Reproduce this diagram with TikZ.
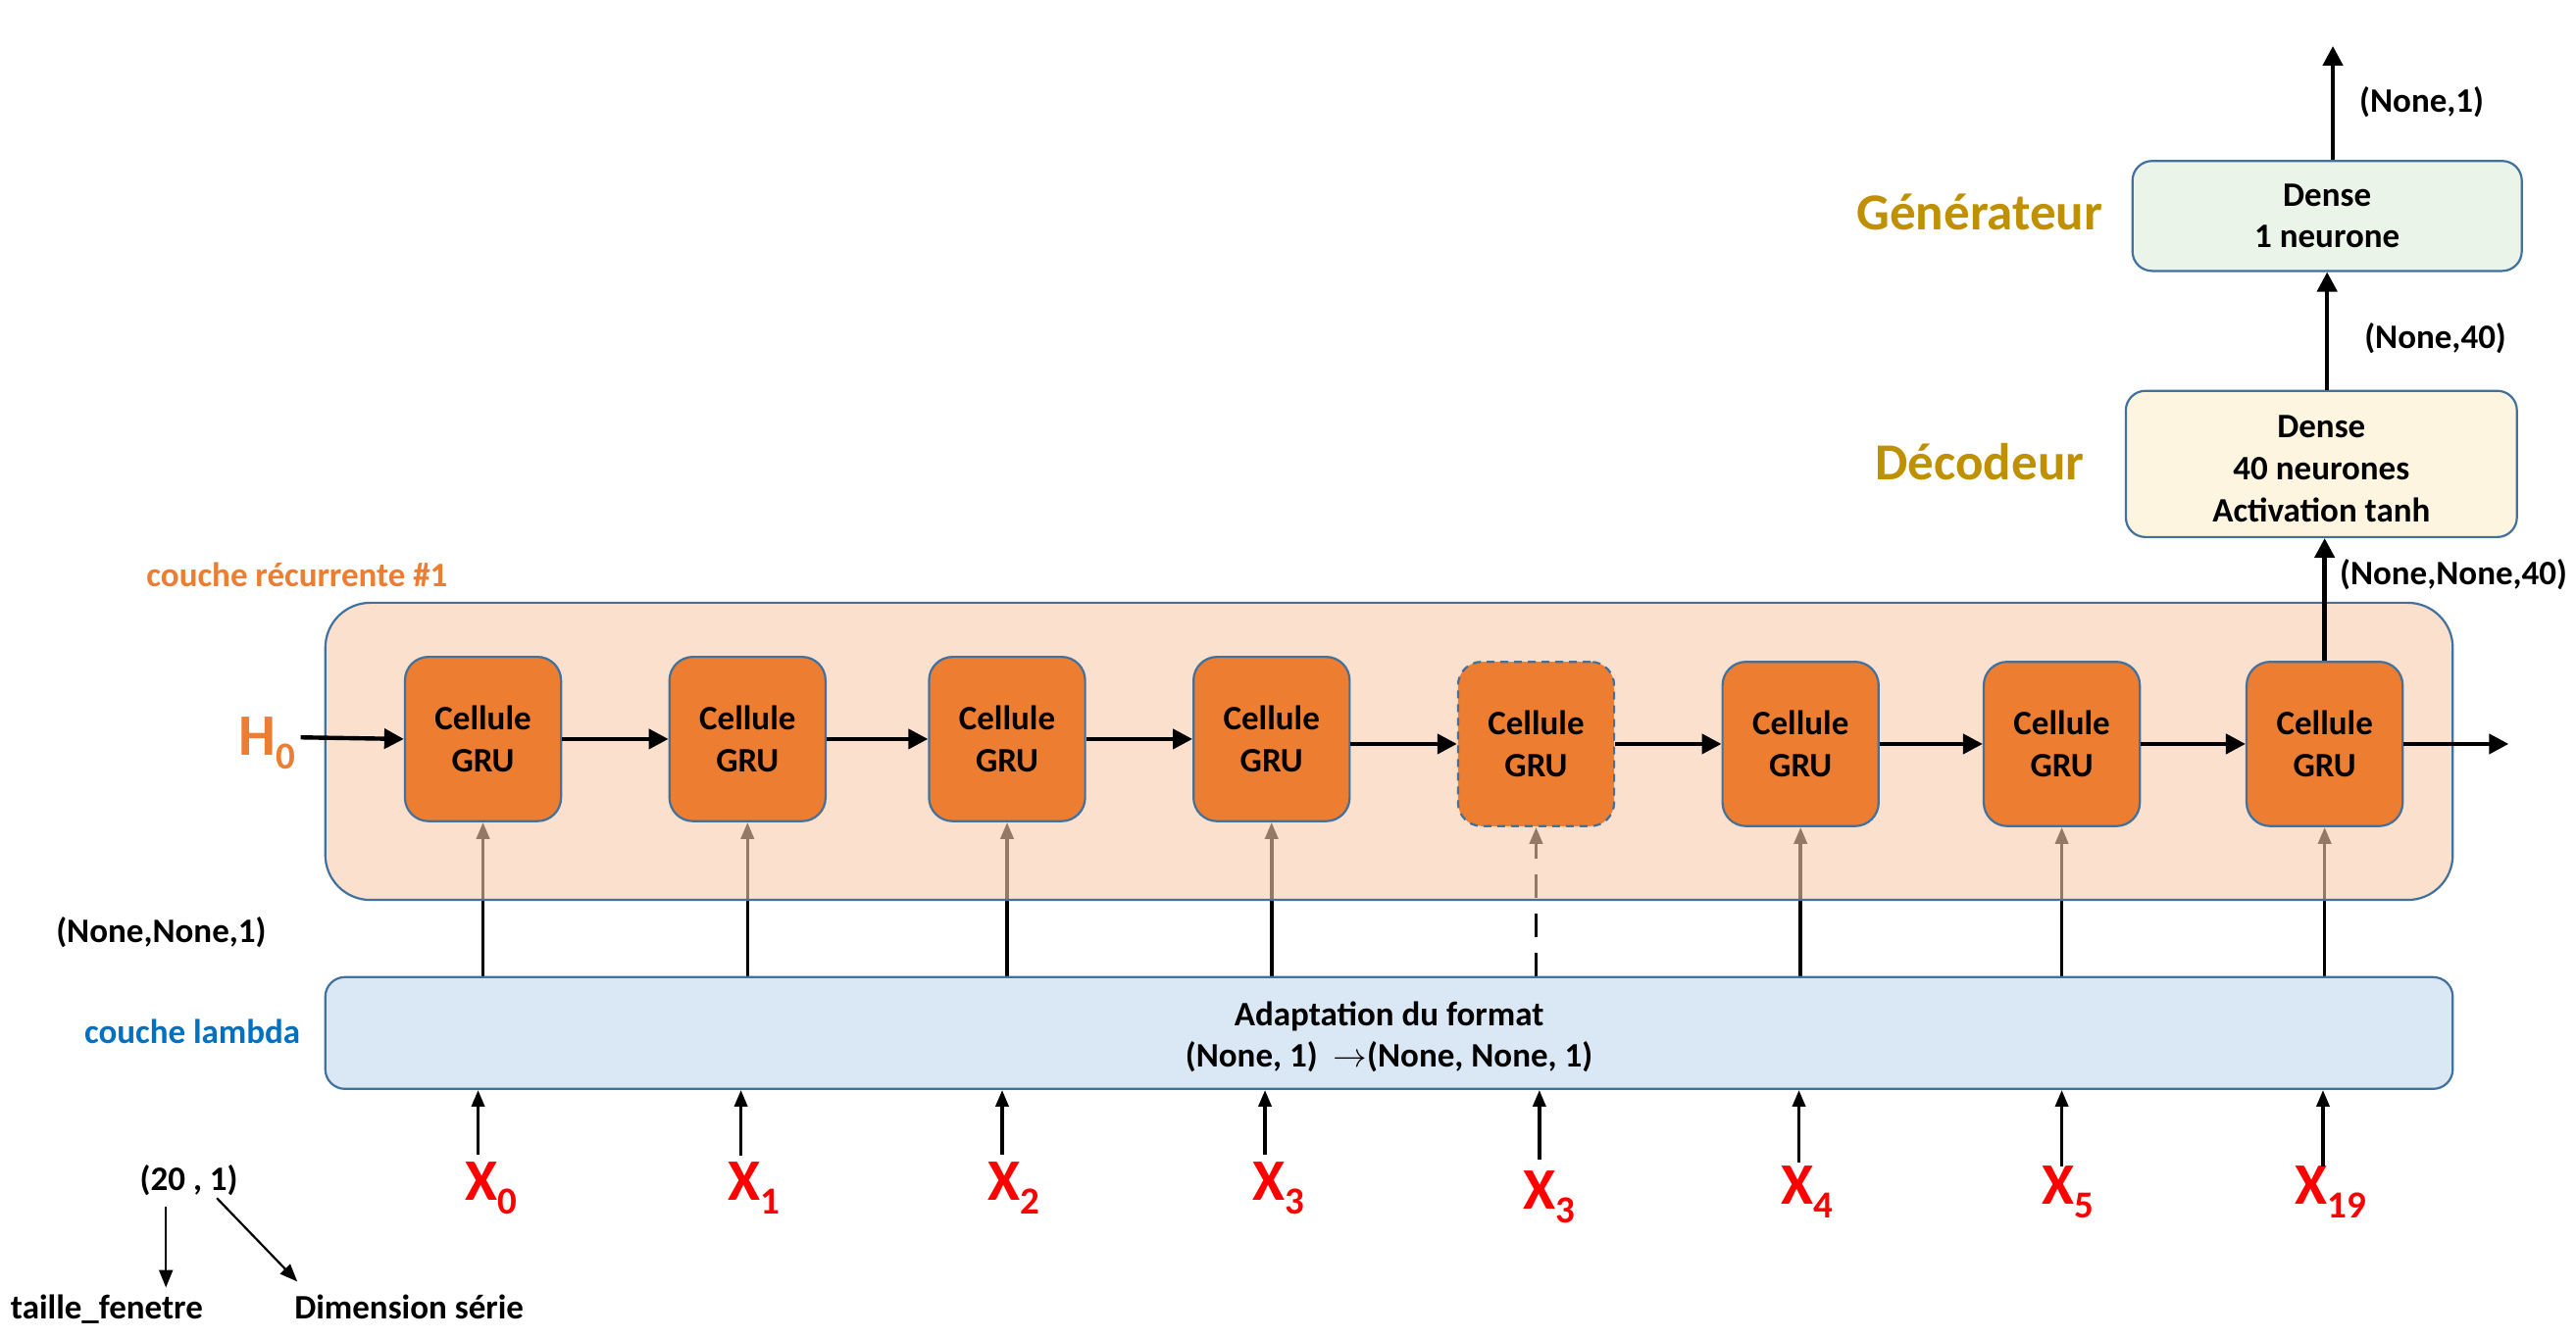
\documentclass[tikz,border=0pt]{standalone}
\usepackage{fontspec}
\setmainfont{Carlito}
\usetikzlibrary{arrows.meta,calc}
\pgfdeclarelayer{bgA}
\pgfdeclarelayer{bgB}
\pgfsetlayers{bgA,bgB,main}
\definecolor{bord}{HTML}{41719C}
\definecolor{cellor}{HTML}{ED7D31}
\definecolor{recfill}{HTML}{F8CBAD}
\definecolor{lamfill}{HTML}{DAE8F5}
\definecolor{decfill}{HTML}{FEF5E1}
\definecolor{genfill}{HTML}{EBF4E8}
\definecolor{gold}{HTML}{BF9000}
\definecolor{lblue}{HTML}{0070C0}
\definecolor{xred}{HTML}{FF0000}
\newcommand\sbx[1]{\raisebox{-7pt}{\fontsize{19.5}{19.5}\selectfont #1}}
\begin{document}
\begin{tikzpicture}[x=0.8377pt,y=-0.8377pt,
  font=\bfseries\fontsize{17.5}{21.5}\selectfont,
  cell/.style={draw=bord, line width=1.1pt, fill=cellor, rounded corners=12pt,
    minimum width=79.6pt, minimum height=83.8pt, align=center, inner sep=0pt,
    font=\bfseries\fontsize{17.5}{21.8}\selectfont},
  layerbox/.style={draw=bord, line width=1.1pt, align=center, inner sep=0pt},
  plain/.style={inner sep=0pt, align=center},
  fwd/.style={line width=2.2pt, -{Triangle[length=10pt,width=10pt]}},
  vin/.style={line width=1.8pt, -{Triangle[length=8.5pt,width=6.5pt]}},
  thinarr/.style={line width=1.1pt, -{Triangle[length=9pt,width=7pt]}},
  xlab/.style={text=xred, anchor=base west, inner sep=0pt, font=\bfseries\fontsize{30}{30}\selectfont},
  big/.style={text=gold, font=\bfseries\fontsize{26.5}{30}\selectfont},
]
\useasboundingbox (0,0) rectangle (1568,815);

% cells
\node[cell] (c1) at (294,450) {Cellule\\GRU};
\node[cell] (c2) at (455,450) {Cellule\\GRU};
\node[cell] (c3) at (613,450) {Cellule\\GRU};
\node[cell] (c4) at (774,450) {Cellule\\GRU};
\node[cell, dashed, dash pattern=on 4pt off 3pt] (c5) at (935,453) {Cellule\\GRU};
\node[cell] (c6) at (1096,453) {Cellule\\GRU};
\node[cell] (c7) at (1255,453) {Cellule\\GRU};
\node[cell] (c8) at (1415,453) {Cellule\\GRU};

% recurrent layer box
\begin{pgfonlayer}{bgB}
\node[layerbox, rounded corners=23pt, fill=recfill, fill opacity=0.6,
  minimum width=1084.8pt, minimum height=151.6pt] (rec) at (845.5,457.5) {};
\end{pgfonlayer}
\node[text=cellor, anchor=west] (reclab) at (85,350) {couche récurrente \#1};

% lambda layer
\node[layerbox, rounded corners=10pt, fill=lamfill,
  minimum width=1084.8pt, minimum height=57pt] (lam) at (845.5,629) {};
\node[plain, font=\bfseries\fontsize{17.5}{21}\selectfont] (lamtxt) at (845.5,631.5)
  {Adaptation du format\\(None, 1)\hspace{8pt}$\rightarrow$(None, None, 1)};
\node[text=lblue, anchor=east] (lamlab) at (187,628) {couche lambda};
\node[anchor=west] (nn1) at (30,568) {(None,None,1)};

% lambda -> cells
\begin{pgfonlayer}{bgA}
\foreach \c in {c1,c2,c3,c4,c6,c7,c8}{
  \draw[vin] (\c.south |- lam.north) -- (\c.south);
}
\draw[vin, dash pattern=on 12pt off 8pt] (c5.south |- lam.north) -- (c5.south);
\end{pgfonlayer}

% H0 and recurrent arrows
\node[text=cellor, inner sep=0pt, font=\bfseries\fontsize{30}{30}\selectfont, anchor=base west] (h0) at (145,460) {H\sbx{0}};
\coordinate (hs) at (183,449);
\draw[fwd] (hs) -- (c1.west);
\draw[fwd] (c1.east) -- (c2.west);
\draw[fwd] (c2.east) -- (c3.west);
\draw[fwd] (c3.east) -- (c4.west);
\draw[fwd] (c4.east |- c5.west) -- (c5.west);
\draw[fwd] (c5.east) -- (c6.west);
\draw[fwd] (c6.east) -- (c7.west);
\draw[fwd] (c7.east) -- (c8.west);
\coordinate (hout) at (1527,453);
\draw[fwd] (c8.east) -- (hout);

% inputs
\node[xlab] (x0) at (283,731) {X\sbx{0}};
\node[xlab] (x1) at (443,731) {X\sbx{1}};
\node[xlab] (x2) at (601,731) {X\sbx{2}};
\node[xlab] (x3) at (762,731) {X\sbx{3}};
\node[xlab] (x3b) at (927,736) {X\sbx{3}};
\node[xlab] (x4) at (1084,733) {X\sbx{4}};
\node[xlab] (x5) at (1243,733) {X\sbx{5}};
\node[xlab] (x19) at (1397,733) {X\sbx{19}};
\coordinate (i0) at (291,703);
\coordinate (i1) at (451,704);
\coordinate (i2) at (610,703);
\coordinate (i3) at (770,703);
\coordinate (i4) at (937,706);
\coordinate (i5) at (1095,708);
\coordinate (i6) at (1255,710);
\coordinate (i7) at (1414,710);
\foreach \i in {i0,i1,i2,i3,i4,i5,i6,i7}{
  \draw[vin] (\i) -- (\i |- lam.south);
}

% decoder / generator
\node[layerbox, rounded corners=10pt, fill=decfill, minimum width=199.4pt, minimum height=74.6pt] (dec) at (1413,282.5) {};
\node[plain, font=\bfseries\fontsize{17.5}{21.4}\selectfont] (dectxt) at (1413,285.5)
  {Dense\\40 neurones\\Activation tanh};
\node[layerbox, rounded corners=10pt, fill=genfill, minimum width=198.5pt, minimum height=56.1pt,
  font=\bfseries\fontsize{17.5}{21}\selectfont] (gen) at (1416.5,131.5)
  {Dense\\1 neurone};
\node[big] (declab) at (1205,281) {Décodeur};
\node[big] (genlab) at (1205,129) {Générateur};
\draw[fwd] (c8.north) -- (c8.north |- dec.south);
\draw[fwd] (gen.south |- dec.north) -- (gen.south);
\coordinate (gout) at (1420,28);
\draw[fwd] (gen.north -| gout) -- (gout);
\node[anchor=west] (s40n) at (1420,350) {(None,None,40)};
\node[anchor=west] (s40) at (1435,206) {(None,40)};
\node[anchor=west] (s1) at (1432,62) {(None,1)};

% bottom-left legend
\node (shape) at (115,719) {(20 , 1)};
\node (tf) at (65,797) {taille\_fenetre};
\node (ds) at (249,796) {Dimension série};
\draw[thinarr] ($(shape.south)+(-14,2)$) -- ($(tf.north)+(36,0)$);
\draw[thinarr] ($(shape.south)+(17,-3)$) -- ($(ds.north)+(-68,-4)$);
\end{tikzpicture}
\end{document}
